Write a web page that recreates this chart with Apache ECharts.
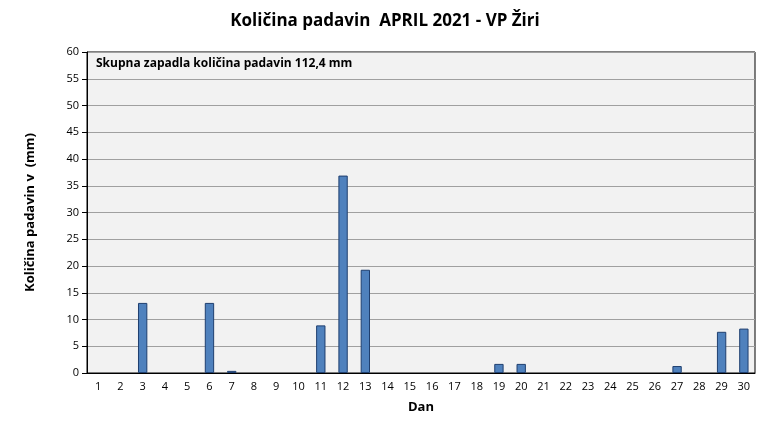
<!DOCTYPE html>
<html><head><meta charset="utf-8">
<script src="https://cdn.jsdelivr.net/npm/echarts@6/dist/echarts.min.js"></script>
<style>html,body{margin:0;padding:0;background:#fff}#c{width:770px;height:439px}</style>
</head><body><div id="c"></div>
<script>
const days = Array.from({length:30},(_,i)=>String(i+1));
const rain = [0,0,13.1,0,0,13.1,0.4,0,0,0,8.9,36.9,19.3,0,0,0,0,0,1.7,1.7,0,0,0,0,0,0,1.3,0,7.7,8.3];
const titleText = 'Količina padavin  APRIL 2021 - VP Žiri';
const noteText = 'Skupna zapadla količina padavin 112,4 mm';
const chart = echarts.init(document.getElementById('c'));
chart.setOption({
  animation:false,
  textStyle:{fontFamily:'Open Sans'},
  title:{text:titleText,left:'center',top:8,textStyle:{fontSize:17,fontWeight:'bold',color:'#000',fontFamily:'Open Sans'}},
  graphic:[{type:'text',left:96,top:58,style:{text:noteText,font:'bold 12px "Open Sans"',fill:'#000'}}],
  grid:{left:87,right:15,top:52,bottom:66,show:true,backgroundColor:'#f2f2f2',borderColor:'#000',borderWidth:1},
  xAxis:{type:'category',data:days,name:'Dan',nameLocation:'middle',nameGap:28,
    nameTextStyle:{fontWeight:'bold',fontSize:13,color:'#000'},
    axisLine:{lineStyle:{color:'#000'}},axisTick:{show:false},
    axisLabel:{color:'#000',fontSize:11}},
  yAxis:{type:'value',min:0,max:60,interval:5,name:'Količina padavin v  (mm)',nameLocation:'middle',nameGap:50,
    nameTextStyle:{fontWeight:'bold',fontSize:13,color:'#000'},
    axisLine:{show:true,lineStyle:{color:'#000'}},axisTick:{show:true,lineStyle:{color:'#000'}},
    axisLabel:{color:'#000',fontSize:11},splitLine:{lineStyle:{color:'#a0a0a0'}}},
  series:[{type:'bar',data:rain.map(v=>v===0?'-':v),barWidth:'42%',itemStyle:{color:'#4f81bd',borderColor:'#1f3f6f',borderWidth:1}}]
});
</script></body></html>
